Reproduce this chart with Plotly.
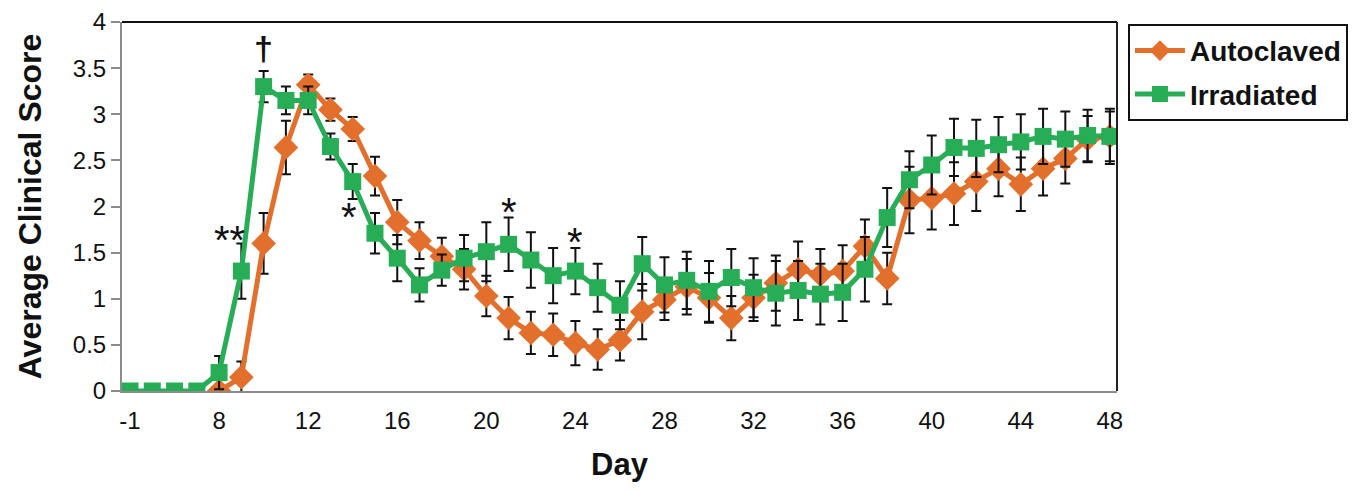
import plotly.graph_objects as go

# ---- data ----
days = ["-1", "2", "4", "6"] + [str(d) for d in range(8, 49)]
tick_days = ["-1", "8", "12", "16", "20", "24", "28", "32", "36", "40", "44", "48"]

irradiated = [0, 0, 0, 0, 0.2, 1.3, 3.3, 3.15, 3.15, 2.65, 2.27, 1.71, 1.44, 1.15, 1.31,
              1.44, 1.51, 1.59, 1.42, 1.25, 1.30, 1.12, 0.93, 1.38, 1.15, 1.20, 1.08, 1.23,
              1.12, 1.06, 1.09, 1.05, 1.07, 1.32, 1.88, 2.29, 2.45, 2.64, 2.63, 2.67, 2.70,
              2.76, 2.73, 2.77, 2.76]
irradiated_err = [0, 0, 0, 0, 0.18, 0.30, 0.17, 0.15, 0.15, 0.14, 0.19, 0.22, 0.25, 0.18, 0.17,
                  0.25, 0.32, 0.29, 0.30, 0.30, 0.25, 0.26, 0.26, 0.29, 0.30, 0.31, 0.33, 0.31,
                  0.32, 0.35, 0.32, 0.33, 0.31, 0.35, 0.32, 0.31, 0.32, 0.31, 0.31, 0.30, 0.30,
                  0.30, 0.30, 0.28, 0.30]
autoclaved = [None, None, None, None, 0, 0.15, 1.6, 2.64, 3.32, 3.05, 2.84, 2.33, 1.83, 1.63, 1.46,
              1.32, 1.03, 0.79, 0.63, 0.61, 0.52, 0.45, 0.55, 0.86, 0.99, 1.13, 1.01, 0.79,
              1.01, 1.17, 1.32, 1.26, 1.30, 1.57, 1.22, 2.07, 2.09, 2.14, 2.27, 2.41, 2.24,
              2.41, 2.52, 2.73, 2.76]
autoclaved_err = [0, 0, 0, 0, 0, 0.17, 0.33, 0.29, 0.11, 0.12, 0.13, 0.21, 0.24, 0.20, 0.20,
                  0.22, 0.22, 0.23, 0.23, 0.23, 0.24, 0.22, 0.22, 0.30, 0.22, 0.30, 0.27, 0.24,
                  0.25, 0.30, 0.30, 0.28, 0.28, 0.29, 0.28, 0.36, 0.34, 0.34, 0.32, 0.30, 0.29,
                  0.29, 0.27, 0.25, 0.27]

# significance marks: (text, day, y, x offset in px, font size)
marks = [("**", "8", 1.64, 10, 40), ("<b>\u2020</b>", "10", 3.72, 0, 34),
         ("*", "14", 1.89, -4, 40), ("*", "21", 1.94, 0, 40), ("*", "24", 1.61, 0, 40)]

ORANGE = "#E36F2C"
GREEN = "#27AD56"
FONT = "Liberation Sans, Arial, sans-serif"

fig = go.Figure()
fig.add_trace(go.Scatter(
    x=days, y=autoclaved, name="Autoclaved", mode="lines+markers",
    line=dict(color=ORANGE, width=5),
    marker=dict(symbol="diamond", size=19, color=ORANGE),
    error_y=dict(type="data", array=autoclaved_err, visible=True,
                 color="#111111", thickness=2, width=5),
    connectgaps=False, legendgroup="a"))
fig.add_trace(go.Scatter(
    x=days, y=irradiated, name="Irradiated", mode="lines+markers",
    line=dict(color=GREEN, width=5),
    marker=dict(symbol="square", size=17, color=GREEN),
    error_y=dict(type="data", array=irradiated_err, visible=True,
                 color="#111111", thickness=2, width=5),
    legendgroup="b"))

for txt, d, yv, xs, fs in marks:
    fig.add_annotation(x=days.index(d), y=yv, text=txt, showarrow=False, xshift=xs,
                       font=dict(size=fs, color="#111111", family=FONT),
                       xref="x", yref="y")

xr = [-0.36, 44.32]
fig.update_layout(
    width=1358, height=483,
    margin=dict(l=114, r=249, t=14, b=100),
    paper_bgcolor="white", plot_bgcolor="white",
    font=dict(family=FONT, color="#111111"),
    showlegend=True,
    legend=dict(x=1.011, y=0.995, xanchor="left", yanchor="top",
                bordercolor="#111111", borderwidth=2, bgcolor="white",
                font=dict(size=28, family=FONT, weight="bold", color="#111111"),
                tracegroupgap=4, itemwidth=50),
    xaxis=dict(type="category", categoryorder="array", categoryarray=days,
               range=xr, tickmode="array", tickvals=tick_days, ticktext=tick_days,
               ticks="", showgrid=False, zeroline=False, automargin=False,
               showline=True, linecolor="#8c8c8c", linewidth=2, ticklabelstandoff=7,
               tickfont=dict(size=24, family=FONT, color="#111111"),
               title=dict(text="<b>Day</b>", font=dict(size=31, family=FONT, color="#111111"),
                          standoff=21)),
    xaxis2=dict(overlaying="x", anchor="y", side="bottom", type="linear", range=xr,
                tickmode="array", tickvals=[i + 0.5 for i in range(len(days))],
                ticks="outside", ticklen=7, tickwidth=2, tickcolor="#8c8c8c",
                automargin=False,
                showticklabels=False, showgrid=False, zeroline=False, showline=False),
    yaxis=dict(range=[0, 4], tickmode="linear", tick0=0, dtick=0.5,
               ticks="outside", ticklen=9, tickwidth=2, tickcolor="#8c8c8c",
               showgrid=False, zeroline=False, showline=True, automargin=False,
               linecolor="#8c8c8c", linewidth=2,
               tickfont=dict(size=24, family=FONT, color="#111111"),
               title=dict(text="<b>Average Clinical Score</b>",
                          font=dict(size=32, family=FONT, color="#111111"), standoff=22)),
)
# top and right frame lines
fig.add_shape(type="line", xref="paper", yref="paper", x0=0, x1=1, y0=1, y1=1,
              line=dict(color="#111111", width=2))
fig.add_shape(type="line", xref="paper", yref="paper", x0=1, x1=1, y0=0, y1=1,
              line=dict(color="#222222", width=2))

fig.write_html("out.html")
